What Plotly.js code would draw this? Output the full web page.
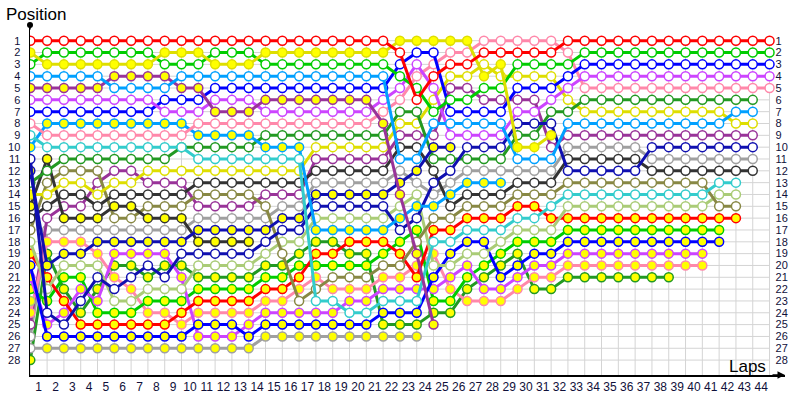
<!DOCTYPE html>
<html>
<head>
<meta charset="utf-8">
<script src="https://cdn.plot.ly/plotly-3.0.1.min.js"></script>
<style>html,body{margin:0;padding:0;background:#fff;}#chart{width:800px;height:400px;}</style>
</head>
<body>
<div id="chart"></div>
<script>
// Lap columns: 0 = grid, 1..44 = end of lap
const lapLabels = ['1','2','3','4','5','6','7','8','9','10','11','12','13','14','15','16','17','18','19','20','21','22','23','24','25','26','27','28','29','30','31','32','33','34','35','36','37','38','39','40','41','42','43','44'];
const positions = [1,2,3,4,5,6,7,8,9,10,11,12,13,14,15,16,17,18,19,20,21,22,23,24,25,26,27,28];

// Position of each car at each column (grid, lap 1, lap 2, ...)
const R1  = [1,1,1,1,1,1,1,1,1,1,1,1,1,1,1,1,1,1,1,1,1,1, 2,6,4,3,3,2,2,2,2,2, 1,1,1,1,1,1,1,1,1,1,1,1,1];
const Y2  = [2,3,3,3,3,3,3,3,2,2,2,3,3,3,2,2,2,2,2,2,2, 2,1,1,1,1,1,4,3,10,10,9];
const G1  = [3,2,2,2,2,2,2,2,3,3,3,2,2,2,3,3,3,3,3,3,3, 3,4,5,7,6,6,5,5,3,3,3, 3, 2,2,2,2,2,2,2,2,2,2,2,2];
const LB1 = [4,4,4,4,4,5,5,5,5,4,4,4,4,4,4,4,4,4,4,4,4, 4,11,11,8,8,8,8,8,11,11,11, 8,8,8,8,8,8,8,8,8,8, 7,7];
const PU1 = [5,5,5,5,5,4,4,4,4,5,5,7,7,7,6,6,6,6,6,6,6, 8,14,19,25];
const VI1 = [6,6,6,6,6,6,6,6,7,7,7,6,6,6,7,7,7,7,7,7,7, 6,5,3,5,9,9,9,9,7,7,6, 5, 4,4,4,4,4,4,4,4,4,4,4,4];
const BL1 = [7,7,7,7,7,7,7,7,6,6,6,5,5,5,5,5,5,5,5,5,5, 5,3,2,2,7,7,7,7,5,5,5, 4, 3,3,3,3,3,3,3,3,3,3,3,3];
const PK1 = [8,9,9,9,9,9,9,9,9,9,8,8,8,8,8,8,8,8,8,8,8, 7,6,4,3,2,2,1,1,1,1,1, 2, 5,5,5,5,5,5,5,5,5,5,5,5];
const CY1 = [9,10,10,10,10,10,10,10,10,10,11,11,11,11,11,11,11,23,23,24,24, 23,23,23,18,18,17,17,17,16,16,15, 14,14,14,14,14,14,14,14,14, 13,13];
const LB2 = [10,8,8,8,8,8,8,8,8,8,9,9,9,9,10,10,10,17,17,17,17, 17,16,15,15,14,13,13,13];
const IN1 = [11,24,25,23,21,22,21,20,21,19,19,19,19,19,18,17,17,15,15,15,15, 15,17,16,13,12,10,10,10,8,8,8, 12,12,12,12,12, 10,10,10,10,10,10,10];
const IN2 = [12,20,19,19,18,18,18,18,18,18,17,17,17,17,17,16,16,14,14,14,14, 14,13,12,10,10];
const DG1 = [13,12,11,11,11,11,11,11,11,10,10,10,10,10,9,9,9,9,9,9,9, 9,7,7,11,11,11,11,11,9,9,7, 7, 6,6,6,6,6,6,6,6,6,6,6];
const YE1 = [14,14,13,13,14,13,13,12,12,12,12,12,12,12,12,12,12,10,10,10,10, 10,8,8,6,4,4,3,4,4,4,4, 6, 7,7,7,7,7,7,7,7,7, 8,8];
const DK2 = [15,11,16,16,16,15,15,16,16,16,18,18,18,18];
const DK1 = [16,15,14,14,15,14,14,14,14,14,13,13,13,13,13,13,13,12,12,12,12, 12,10,10,12,15,14,14,14,13,13,13, 11,11,11,11,11, 12,12,12,12,12,12,12];
const OL1 = [17,13,12,12,12,16,16,15,15,15,14,14,14,14,15,19,23,22,21,21,21, 20,20,18,16,16,15,15,15,14,14,14, 13,13,13,13,13,13,13,13,13, 15,15];
const LGR1= [18,22,20,20,20,23,23,22,22,22,20,20,20,20,19,18,18,16,16,16,16, 16,15,14,20,20,19,19,18,17,17,17, 15,15,15,15,15,15,15,15,15, 14,14];
const R2  = [19,21,23,25,25,25,25,25,25,24,23,23,23,23,22,22,21,19,19,18,18, 18,19,21,17,17,16,16,16,15,15,16, 16,16,16,16,16,16,16,16,16,16,16];
const BL2 = [20,26,26,26,26,26,26,26,26,26,25,25,25,26,25,25,25,25,25,25,25, 24,24,24,21,19,18,18,21,20,19,19, 18,18,18,18,18,18,18,18,18,18];
const VI2 = [21,25,24,22,23,19,19,19,19,21,26,26,26,25,24,24,24,24,24,23,23, 22,22,22,22,21,20,22,22,21,20,20, 19,19,19,19,19,19,19,19,19];
const G2  = [22,23,21,21,24,24,24,23,23,23,22,22,22,22,21,21,20,20,20,20,20, 19,18,17,23,23,21,20,19,18,18,18, 17,17,17,17,17,17,17,17,17,17];
const LGR2= [23];
const PK2 = [24,18,18,18,19,21,22,24,24,25,24,24,24,24,23,23,22,21,22,22,22, 21,21,20,19,22,23,23,23,22,21,21, 20,20,20,20,20,20,20,20,20];
const PU2 = [25,16,15,15,13,12,12,13,13,13,15,15,15,15,14,14,14,11,11,11,11, 11,9,9,9,5,5,6,6,6,6,10, 9,9,9,9,9,9,9,9,9,9,9,9];
const LGY1= [26,17,17,17,17,17,17,17,17,17,16,16,16,16,16,15,15,13,13,13,13, 13,12,13,14,13,12,12,12,12,12,12, 10,10,10,10,10, 11,11,11,11,11,11,11];
const LGY2= [27,27,27,27,27,27,27,27,27,27,27,27,27,27,26,26,26,26,26,26,26,26,26,26];
const DGR2= [28,19,22,24,22,20,20,21,20,20,21,21,21,21,20,20,19,18,18,19,19, 25,25,25,24,24,22,21,20,19,22,22, 21,21,21,21,21,21,21];

// car list: data, line colour, yellow-filled markers, columns where fill is flipped
const cars = [
  {pos: R1,  color: '#ff0000', filled: false, flip: []},
  {pos: Y2,  color: '#dede00', filled: true,  flip: []},
  {pos: G1,  color: '#00cc00', filled: false, flip: []},
  {pos: LB1, color: '#00a0ff', filled: false, flip: []},
  {pos: PU1, color: '#993399', filled: true,  flip: []},
  {pos: VI1, color: '#cc44ff', filled: false, flip: []},
  {pos: BL1, color: '#0000ff', filled: false, flip: []},
  {pos: PK1, color: '#ff88aa', filled: false, flip: []},
  {pos: CY1, color: '#33cccc', filled: false, flip: []},
  {pos: LB2, color: '#00a0ff', filled: true,  flip: []},
  {pos: IN1, color: '#1010b0', filled: false, flip: []},
  {pos: IN2, color: '#1010b0', filled: true,  flip: []},
  {pos: DG1, color: '#229922', filled: false, flip: []},
  {pos: YE1, color: '#dede00', filled: false, flip: [0]},
  {pos: DK2, color: '#333333', filled: true,  flip: []},
  {pos: DK1, color: '#333333', filled: false, flip: []},
  {pos: OL1, color: '#888844', filled: false, flip: []},
  {pos: LGR1,color: '#aacc77', filled: false, flip: []},
  {pos: R2,  color: '#ff0000', filled: true,  flip: []},
  {pos: BL2, color: '#0000ff', filled: true,  flip: []},
  {pos: VI2, color: '#cc44ff', filled: true,  flip: []},
  {pos: G2,  color: '#00cc00', filled: true,  flip: []},
  {pos: LGR2,color: '#aacc77', filled: true,  flip: []},
  {pos: PK2, color: '#ff88aa', filled: true,  flip: []},
  {pos: PU2, color: '#993399', filled: false, flip: []},
  {pos: LGY1,color: '#a0a0a0', filled: false, flip: []},
  {pos: LGY2,color: '#a0a0a0', filled: true,  flip: [0]},
  {pos: DGR2,color: '#229922', filled: true,  flip: []}
];

const NCOL = lapLabels.length; // 44 laps -> columns 0..44
const YEL = '#ffff00';
const traces = [];
cars.slice().reverse().forEach(c => {
  const xs = c.pos.map((_, i) => i);
  const fills = c.pos.map((_, i) => {
    let f = c.filled;
    if (c.flip.indexOf(i) >= 0) f = !f;
    return f ? YEL : '#ffffff';
  });
  traces.push({
    x: xs, y: c.pos, type: 'scatter', mode: 'lines+markers',
    line: {color: c.color, width: 3},
    marker: {size: 9, color: fills, line: {color: c.color, width: 1.5}},
    hoverinfo: 'skip', showlegend: false
  });
});
// trace carrying the right-hand position axis
traces.push({x: [0], y: [1], yaxis: 'y2', mode: 'markers', marker: {opacity: 0}, hoverinfo: 'skip', showlegend: false});

const yBottom = 29.26, yTop = -0.327;
const shapes = [];
positions.forEach(p => shapes.push({type: 'line', layer: 'below', xref: 'x', yref: 'y', x0: 0, x1: NCOL, y0: p, y1: p, line: {color: '#d4d4d4', width: 1}}));
for (let c = 0; c <= NCOL; c++) {
  shapes.push({type: 'line', layer: 'below', xref: 'x', yref: 'y', x0: c, x1: c, y0: 1, y1: yBottom, line: {color: '#d4d4d4', width: 1}});
}

const tickFont = {family: 'Liberation Sans, Arial, sans-serif', size: 12, color: '#10103a'};
const layout = {
  width: 800, height: 400,
  margin: {l: 30, r: 15, t: 25, b: 25},
  paper_bgcolor: '#ffffff', plot_bgcolor: '#ffffff',
  showlegend: false,
  xaxis: {
    range: [-0.018, 44.92], tickmode: 'array',
    tickvals: lapLabels.map((_, i) => i + 0.5), ticktext: lapLabels,
    showgrid: false, zeroline: false, showline: true, linecolor: '#000000', linewidth: 1.5,
    ticks: '', tickfont: tickFont, fixedrange: true
  },
  yaxis: {
    range: [yBottom, yTop], tickmode: 'array', tickvals: positions, ticktext: positions.map(String),
    showgrid: false, zeroline: false, showline: true, linecolor: '#000000', linewidth: 1.5,
    ticks: '', tickfont: {family: tickFont.family, size: 11, color: tickFont.color}, ticklabelstandoff: 6, fixedrange: true
  },
  yaxis2: {
    overlaying: 'y', side: 'right', anchor: 'free', position: 0.9795,
    range: [yBottom, yTop], tickmode: 'array', tickvals: positions, ticktext: positions.map(String),
    showgrid: false, zeroline: false, showline: false, ticks: '', ticklabelstandoff: 5,
    tickfont: {family: tickFont.family, size: 11, color: tickFont.color}, fixedrange: true
  },
  shapes: shapes,
  annotations: [
    {xref: 'paper', yref: 'paper', x: -0.034, y: 1.03, xanchor: 'left', yanchor: 'middle', text: 'Position', showarrow: false,
     font: {family: 'Liberation Sans, Arial, sans-serif', size: 17, color: '#000000'}},
    {xref: 'paper', yref: 'paper', x: 0.978, y: 0.024, xanchor: 'right', yanchor: 'middle', text: 'Laps', showarrow: false,
     font: {family: 'Liberation Sans, Arial, sans-serif', size: 17, color: '#000000'}},
    {xref: 'paper', yref: 'paper', x: 1.0, y: 0, ax: -14, ay: 0, text: '', showarrow: true, arrowhead: 2, arrowsize: 1, arrowwidth: 1.5, arrowcolor: '#000000'},
    {xref: 'paper', yref: 'paper', x: 0, y: 1.0, ax: 0, ay: 6, text: '', showarrow: true, arrowhead: 6, arrowsize: 1, arrowwidth: 1.5, arrowcolor: '#000000'}
  ]
};
Plotly.newPlot('chart', traces, layout, {staticPlot: true, displayModeBar: false});
</script>
</body>
</html>
